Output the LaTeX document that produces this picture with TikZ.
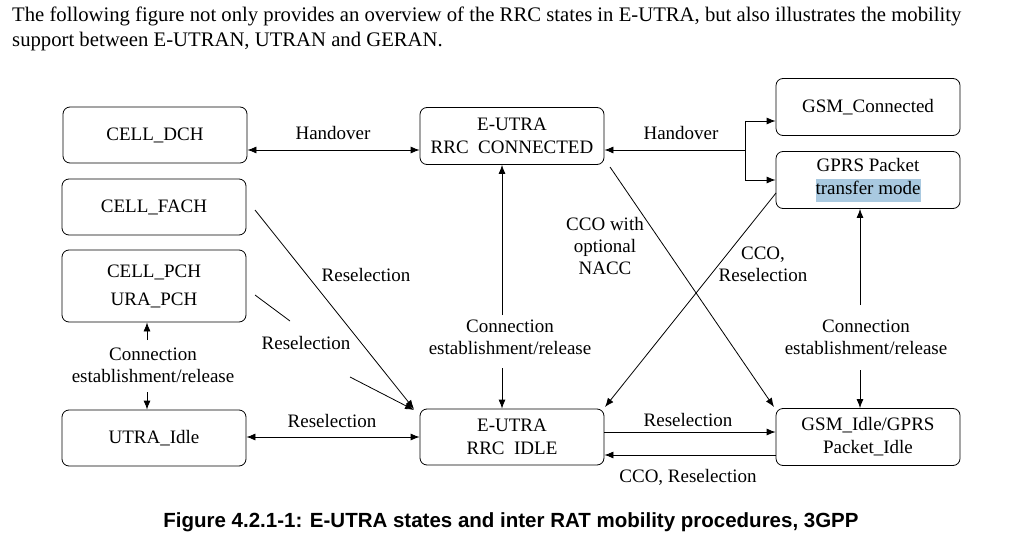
\documentclass[tikz,border=0pt]{standalone}
\usepackage{fontspec}
\setmainfont{Liberation Serif}
\newfontfamily\capfont{Liberation Sans}
\usetikzlibrary{arrows.meta}
\begin{document}
\begin{tikzpicture}[x=1pt,y=-1pt,
  box/.style={draw,rounded corners=7pt,thick,minimum width=184pt,minimum height=56pt,align=center,font=\fontsize{19}{23}\selectfont},
  lab/.style={align=center,font=\fontsize{19}{22}\selectfont},
  ar/.style={thick,-{Latex[length=9pt,width=7pt]}},
  dar/.style={thick,{Latex[length=9pt,width=7pt]}-{Latex[length=9pt,width=7pt]}}]
\useasboundingbox (0,0) rectangle (1017,548);
\node[anchor=north west,align=left,font=\fontsize{20.7}{25}\selectfont,inner sep=0] (intro) at (12,7) {The following figure not only provides an overview of the RRC states in E-UTRA, but also illustrates the mobility\\support between E-UTRAN, UTRAN and GERAN.};
\node[box] (dch) at (155,135) {CELL\_DCH};
\node[box] (fach) at (154,207) {CELL\_FACH};
\node[box,minimum height=72pt] (pch) at (154,286) {CELL\_PCH\\[5pt]URA\_PCH};
\node[box] (uidle) at (154,438) {UTRA\_Idle};
\node[box,minimum height=57pt] (conn) at (512,136) {E-UTRA\\RRC\ \ CONNECTED};
\node[box] (idle) at (512,437) {E-UTRA\\RRC\ \ IDLE};
\node[box,minimum height=57pt] (gsmc) at (868,107) {GSM\_Connected};
\node[box,minimum height=57pt] (gprs) at (868,180) {GPRS Packet\\\setlength{\fboxsep}{0pt}\colorbox[HTML]{A9C9E0}{\strut transfer mode}};
\node[box,minimum height=57pt] (gidle) at (868,437) {GSM\_Idle/GPRS\\Packet\_Idle};
\coordinate (br) at (745,150);
\draw[dar] (dch.east |- 0,150) -- (conn.west |- 0,150);
\node[lab] (l1) at (333,133) {Handover};
\draw[ar] (br) -- (conn.east |- br);
\draw[thick] (745,121) -- (745,180);
\draw[ar] (745,121) -- (gsmc.west |- 0,121);
\draw[ar] (745,180) -- (gprs.west |- 0,180);
\node[lab] (l2) at (681,133) {Handover};
\coordinate (c1) at (502,315);
\coordinate (c2) at (502,368);
\draw[ar] (c1) -- (conn.south -| c1);
\draw[ar] (c2) -- (idle.north -| c2);
\node[lab] (l3) at (510,337) {Connection\\establishment/release};
\coordinate (f1) at (255,210);
\draw[ar] (f1) -- (414,409);
\node[lab] (l4) at (366,275) {Reselection};
\coordinate (p1) at (255,295);
\coordinate (p2) at (290,321);
\coordinate (p3) at (350,377);
\draw[thick] (p1) -- (p2);
\draw[ar] (p3) -- (414,410);
\node[lab] (l5) at (306,343) {Reselection};
\coordinate (v1) at (147,340);
\coordinate (v2) at (147,392);
\draw[ar] (v1) -- (pch.south -| v1);
\draw[ar] (v2) -- (uidle.north -| v2);
\node[lab] (l6) at (153,365) {Connection\\establishment/release};
\draw[dar] (uidle.east |- 0,437) -- (idle.west |- 0,437);
\node[lab] (l7) at (332,421) {Reselection};
\draw[ar] (idle.east |- 0,432) -- (gidle.west |- 0,432);
\node[lab] (l8) at (688,420) {Reselection};
\draw[ar] (gidle.west |- 0,455) -- (idle.east |- 0,455);
\node[lab] (l9) at (688,477) {CCO, Reselection};
\coordinate (x1) at (610,167);
\draw[ar] (x1) -- (774,407);
\node[lab] (l10) at (605,246) {CCO with\\optional\\NACC};
\coordinate (x2) at (776,193);
\draw[ar] (x2) -- (605,407);
\node[lab] (l11) at (763,264) {CCO,\\Reselection};
\coordinate (g1) at (860,305);
\coordinate (g2) at (860,370);
\draw[ar] (g1) -- (gprs.south -| g1);
\draw[ar] (g2) -- (gidle.north -| g2);
\node[lab] (l12) at (866,337) {Connection\\establishment/release};
\node[font=\capfont\bfseries\fontsize{20.5}{24}\selectfont] (cap) at (511,522) {Figure 4.2.1-1: E-UTRA states and inter RAT mobility procedures, 3GPP};
\end{tikzpicture}
\end{document}
